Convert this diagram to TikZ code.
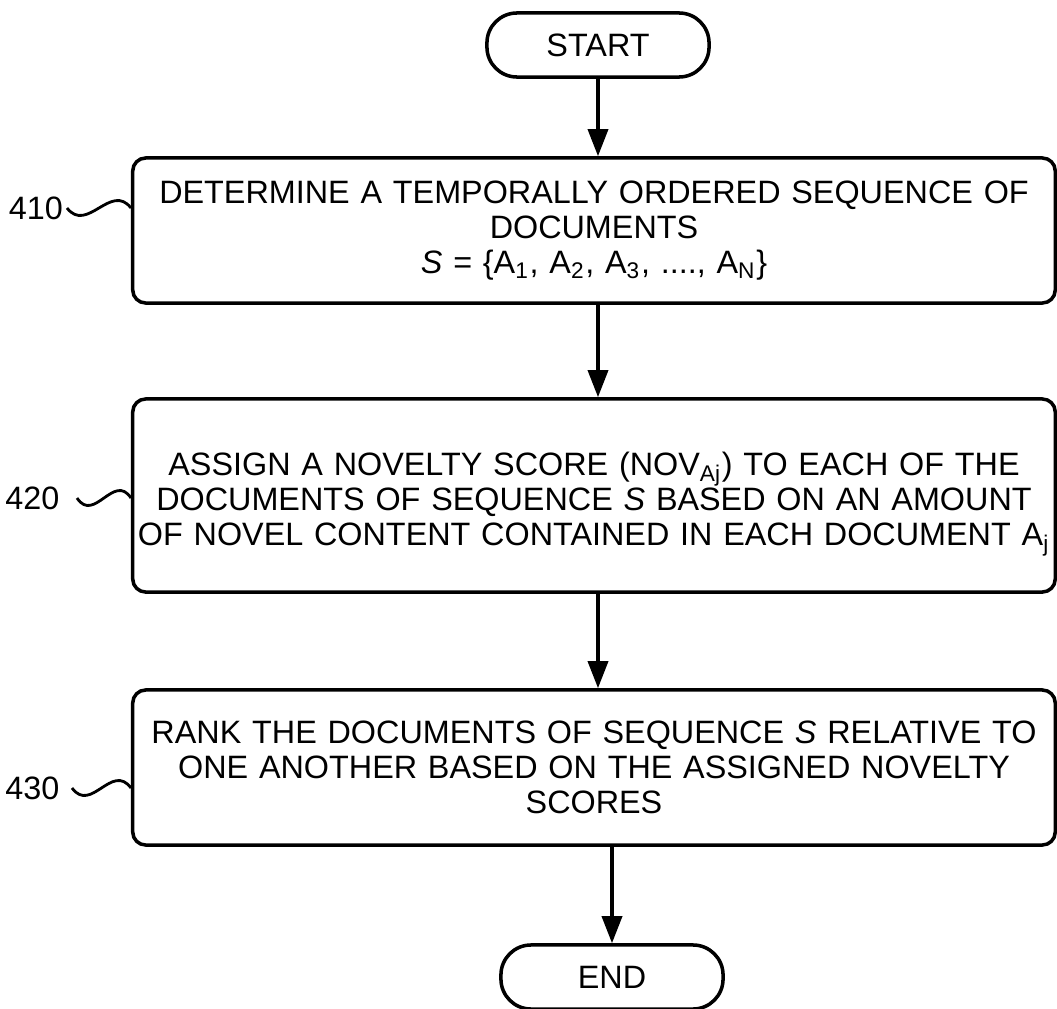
\documentclass[tikz,border=0pt]{standalone}
\usepackage{fontspec}
\setmainfont{Liberation Sans}
\usetikzlibrary{arrows.meta}
\tikzset{
  stepbox/.style={draw,line width=1pt,rounded corners=0.13cm,minimum width=9.22cm,
    text width=9.18cm,align=center,inner xsep=0pt,font=\fontsize{9.2}{10}\selectfont},
  termbox/.style={draw,line width=1pt,rounded corners=0.3cm,minimum width=2.22cm,
    minimum height=0.64cm,font=\fontsize{9.2}{10}\selectfont},
  reflabel/.style={font=\fontsize{9.2}{10}\selectfont,inner sep=1pt,anchor=east},
  flow/.style={line width=1pt,-{Triangle[length=2.7mm,width=2mm]}},
  wave/.style={line width=0.8pt}
}
\begin{document}
\begin{tikzpicture}[x=0.01cm,y=-0.01cm]
\useasboundingbox (0,0) rectangle (1057,1009);

\node[termbox] (start) at (598,45) {START};
\node[stepbox,minimum height=1.45cm] (b410) at (594,230.5)
  {DETERMINE A TEMPORALLY ORDERED SEQUENCE OF\\ DOCUMENTS\\
   \textit{S} = \{A\textsubscript{1}, A\textsubscript{2}, A\textsubscript{3}, ...., A\textsubscript{N}\}};
\node[stepbox,minimum height=1.93cm] (b420) at (594,495.5)
  {\rule{0pt}{11.6pt}ASSIGN A NOVELTY SCORE (NOV\textsubscript{Aj}) TO EACH OF THE\\
   DOCUMENTS OF SEQUENCE \textit{S} BASED ON AN AMOUNT\\
   OF NOVEL CONTENT CONTAINED IN EACH DOCUMENT A\textsubscript{j}};
\node[stepbox,minimum height=1.55cm] (b430) at (594,767.5)
  {RANK THE DOCUMENTS OF SEQUENCE \textit{S} RELATIVE TO\\
   ONE ANOTHER BASED ON THE ASSIGNED NOVELTY\\ SCORES};
\node[termbox] (end) at (612,977) {END};

% reference numerals
\node[reflabel] (l410) at (67,208) {410};
\node[reflabel,inner xsep=0.17cm] (l420) at (77,498) {420};
\node[reflabel,inner xsep=0.12cm] (l430) at (72,788) {430};
\draw[wave] (l410.east) .. controls +(20,26) and +(-20,-26) .. (b410.west |- l410);
\draw[wave] (l420.east) .. controls +(17,26) and +(-17,-26) .. (b420.west |- l420);
\draw[wave] (l430.east) .. controls +(19,26) and +(-19,-26) .. (b430.west |- l430);

\draw[flow] (start) -- (start |- b410.north);
\draw[flow] (b410.south -| start) -- (start |- b420.north);
\draw[flow] (b420.south -| start) -- (start |- b430.north);
\draw[flow] (b430.south -| end) -- (end);
\end{tikzpicture}
\end{document}
